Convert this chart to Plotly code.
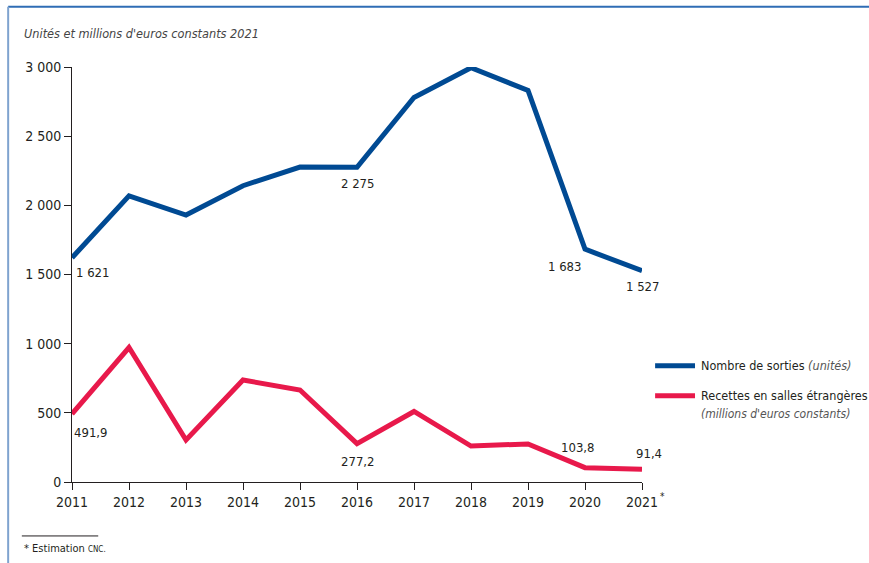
import plotly.graph_objects as go

years = [2011, 2012, 2013, 2014, 2015, 2016, 2017, 2018, 2019, 2020, 2021]
sorties = [1621, 2068, 1930, 2142, 2277, 2275, 2780, 2995, 2830, 1683, 1527]
recettes = [491.9, 972, 304, 737, 665, 277.2, 510, 260, 275, 103.8, 91.4]

x_ticktext = ["2011", "2012", "2013", "2014", "2015", "2016", "2017", "2018", "2019", "2020", "2021"]
y_tickvals = [0, 500, 1000, 1500, 2000, 2500, 3000]
y_ticktext = ["0", "500", "1 000", "1 500", "2 000", "2 500", "3 000"]

# labelled points: (index, text, xshift, yshift, xanchor)
labels_sorties = [(0, "1 621", 2, -15, "left"), (5, "2 275", 0, -16, "center"),
                  (9, "1 683", -2, -17, "right"), (10, "1 527", 0, -16, "center")]
labels_recettes = [(0, "491,9", 0, -19, "left"), (5, "277,2", 0, -18, "center"),
                   (9, "103,8", -8, 20, "center"), (10, "91,4", 7, 16, "center")]

BLUE = "#004a93"
RED = "#e8194b"
FONT = "DejaVu Sans Condensed, Liberation Sans Narrow, Arial Narrow, sans-serif"
TXT = "#231f20"
LS = 13

fig = go.Figure()
fig.add_trace(go.Scatter(x=years, y=sorties, mode="lines", line=dict(color=BLUE, width=5),
                         cliponaxis=False, showlegend=False, name="Nombre de sorties"))
fig.add_trace(go.Scatter(x=years, y=recettes, mode="lines", line=dict(color=RED, width=5),
                         cliponaxis=False, showlegend=False, name="Recettes en salles étrangères"))

anns = []
for i, t, xs, ys, xa in labels_sorties:
    anns.append(dict(x=years[i], y=sorties[i], text=t, showarrow=False, xshift=xs, yshift=ys,
                     xanchor=xa, font=dict(size=LS, color=TXT, family=FONT)))
for i, t, xs, ys, xa in labels_recettes:
    anns.append(dict(x=years[i], y=recettes[i], text=t, showarrow=False, xshift=xs, yshift=ys,
                     xanchor=xa, font=dict(size=LS, color=TXT, family=FONT)))

# title
anns.append(dict(xref="paper", yref="paper", x=-0.088, y=1.08, xanchor="left", yanchor="middle",
                 text="<i>Unités et millions d'euros constants 2021</i>", showarrow=False,
                 font=dict(size=12.6, color="#444", family=FONT)))
# asterisk on 2021
anns.append(dict(x=2021, y=0, text="*", showarrow=False, xshift=20, yshift=-14,
                 font=dict(size=10, color=TXT, family=FONT)))
# legend
anns.append(dict(xref="paper", yref="paper", x=1.1, y=0.28, xanchor="left", yanchor="middle",
                 text="Nombre de sorties <i><span style='color:#555'>(unités)</span></i>", showarrow=False,
                 font=dict(size=12.5, color=TXT, family=FONT)))
anns.append(dict(xref="paper", yref="paper", x=1.1, y=0.208, xanchor="left", yanchor="middle",
                 text="Recettes en salles étrangères", showarrow=False,
                 font=dict(size=12.5, color=TXT, family=FONT)))
anns.append(dict(xref="paper", yref="paper", x=1.1, y=0.163, xanchor="left", yanchor="middle",
                 text="<i>(millions d'euros constants)</i>", showarrow=False,
                 font=dict(size=12, color="#555", family=FONT)))
# footnote
anns.append(dict(xref="paper", yref="paper", x=-0.088, y=-0.161, xanchor="left", yanchor="middle",
                 text="* Estimation <span style='font-size:8px'>CNC.</span>", showarrow=False,
                 font=dict(size=11, color=TXT, family=FONT)))

shapes = [
    dict(type="line", xref="paper", yref="paper", x0=1.023, x1=1.093, y0=0.28, y1=0.28,
         line=dict(color=BLUE, width=5)),
    dict(type="line", xref="paper", yref="paper", x0=1.023, x1=1.093, y0=0.208, y1=0.208,
         line=dict(color=RED, width=5)),
    # footnote rule
    dict(type="line", xref="paper", yref="paper", x0=-0.088, x1=0.046, y0=-0.13, y1=-0.13,
         line=dict(color=TXT, width=1)),
    # frame lines (page border)
    dict(type="line", xref="paper", yref="paper", x0=-0.112, x1=1.4, y0=1.145, y1=1.145,
         line=dict(color="#2f6db5", width=2)),
    dict(type="line", xref="paper", yref="paper", x0=-0.112, x1=-0.112, y0=1.145, y1=-0.25,
         line=dict(color="#7fa3cf", width=2)),
]

fig.update_layout(
    width=869, height=563,
    margin=dict(l=72, r=227, t=67, b=81),
    paper_bgcolor="white", plot_bgcolor="white",
    font=dict(family=FONT, size=14, color=TXT),
    annotations=anns, shapes=shapes,
    xaxis=dict(range=[2011, 2021], tickvals=years, ticktext=x_ticktext, showgrid=False,
               zeroline=False, showline=True, linecolor=TXT, linewidth=1,
               ticks="outside", ticklen=7, tickcolor=TXT, tickfont=dict(size=14, color=TXT, family=FONT)),
    yaxis=dict(range=[0, 3000], tickvals=y_tickvals, ticktext=y_ticktext, showgrid=False,
               zeroline=False, showline=True, linecolor=TXT, linewidth=1,
               ticks="outside", ticklen=7, tickcolor=TXT, tickfont=dict(size=14, color=TXT, family=FONT)),
)

fig.write_html("out.html", config={"displayModeBar": False})
with open("out.html", "r", encoding="utf-8") as f:
    html = f.read()
html = html.replace("<head>", "<head><style>html,body{margin:0;padding:0;overflow:hidden;}</style>", 1)
with open("out.html", "w", encoding="utf-8") as f:
    f.write(html)
